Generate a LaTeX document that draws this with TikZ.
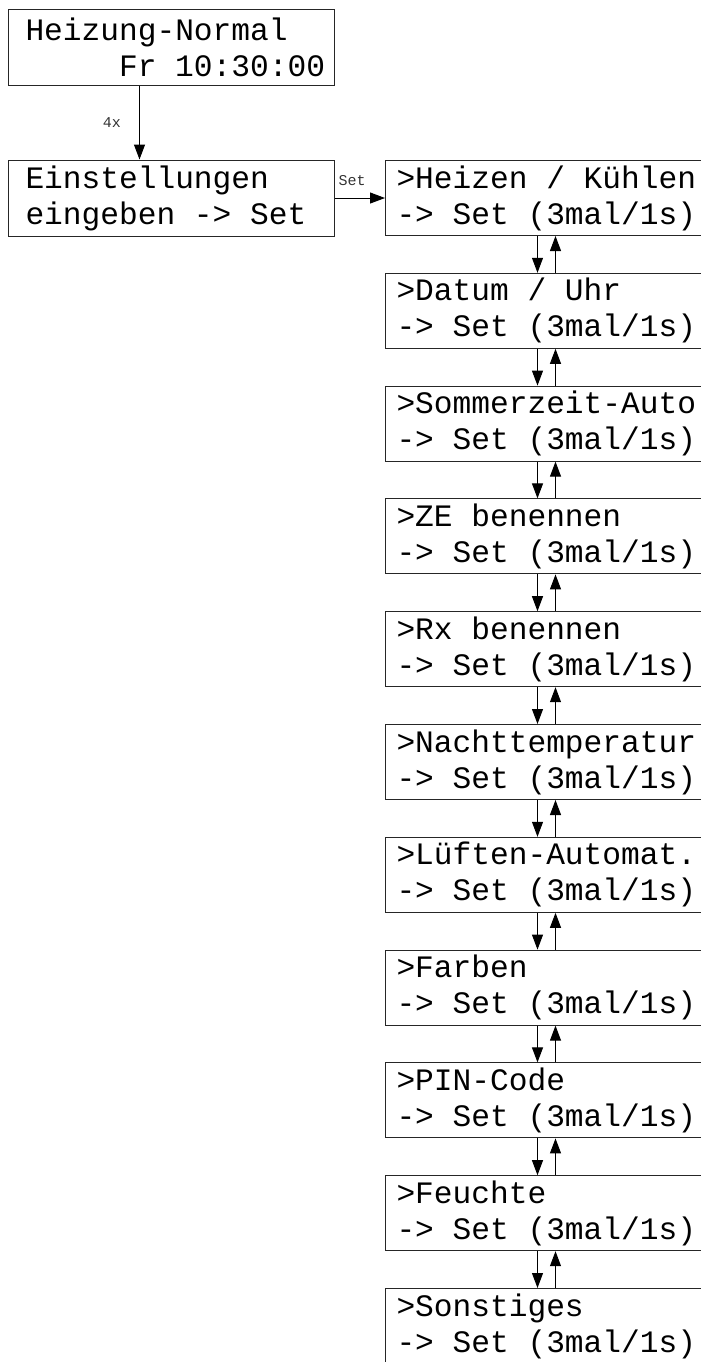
\documentclass[tikz,border=0pt]{standalone}
\usepackage{fontspec}
\setmonofont{Liberation Mono}
\usetikzlibrary{arrows.meta, positioning}
\newcommand\lcdspace{\spaceskip=9.36pt\xspaceskip=9.36pt\relax}
\tikzset{
  lcd/.style ={rectangle, draw=black!85, line width=0.5pt, align=left, text width=146pt,
               inner xsep=8.5pt, inner ysep=0.5pt, minimum width=163pt, minimum height=38pt,
               font=\ttfamily\fontsize{15.6}{18}\selectfont, execute at begin node=\lcdspace},
  lcdr/.style={lcd, text width=150pt, inner xsep=5.5pt, minimum width=161pt, minimum height=37.5pt},
  marr/.style={-{Triangle[length=7.5pt, width=5.5pt]}, line width=0.5pt},
  mlbl/.style={font=\ttfamily\fontsize{7.5}{8}\selectfont, text=black!80, inner sep=1pt},
}
\begin{document}
\begin{tikzpicture}[node distance=18.4pt]
  \useasboundingbox (0,0) rectangle (350.5pt,-681pt);
  \node[lcd, anchor=north west] (heiz) at (4pt,-4.25pt) {Heizung-Normal\\\phantom{xxxxx}Fr~10:30:00};
  \node[lcd, below=37pt of heiz] (ein) {Einstellungen\\eingeben -> Set};
  \draw[marr] ([xshift=-16pt]heiz.south) -- node[mlbl, left=8pt]{4x} ([xshift=-16pt]ein.north);
  % Menuepunkte
  \node[lcdr, right=25pt of ein] (hk) {>Heizen / Kühlen\\-> Set (3mal/1s)};
  \node[lcdr, below=of hk] (datum) {>Datum / Uhr\\-> Set (3mal/1s)};
  \node[lcdr, below=of datum] (sommer) {>Sommerzeit-Auto\\-> Set (3mal/1s)};
  \node[lcdr, below=of sommer] (ze) {>ZE benennen\\-> Set (3mal/1s)};
  \node[lcdr, below=of ze] (rx) {>Rx benennen\\-> Set (3mal/1s)};
  \node[lcdr, below=of rx] (nacht) {>Nachttemperatur\\-> Set (3mal/1s)};
  \node[lcdr, below=of nacht] (lueft) {>Lüften-Automat.\\-> Set (3mal/1s)};
  \node[lcdr, below=of lueft] (farben) {>Farben\\-> Set (3mal/1s)};
  \node[lcdr, below=of farben] (pin) {>PIN-Code\\-> Set (3mal/1s)};
  \node[lcdr, below=of pin] (feucht) {>Feuchte\\-> Set (3mal/1s)};
  \node[lcdr, below=of feucht] (sonst) {>Sonstiges\\-> Set (3mal/1s)};
  \draw[marr] (ein) -- node[mlbl, above=5pt, xshift=-4pt]{Set} (hk);
  % runter / hoch
  \draw[marr] ([xshift=-4.5pt]hk.south) -- ([xshift=-4.5pt]datum.north);
  \draw[marr] ([xshift=4.5pt]datum.north) -- ([xshift=4.5pt]hk.south);
  \draw[marr] ([xshift=-4.5pt]datum.south) -- ([xshift=-4.5pt]sommer.north);
  \draw[marr] ([xshift=4.5pt]sommer.north) -- ([xshift=4.5pt]datum.south);
  \draw[marr] ([xshift=-4.5pt]sommer.south) -- ([xshift=-4.5pt]ze.north);
  \draw[marr] ([xshift=4.5pt]ze.north) -- ([xshift=4.5pt]sommer.south);
  \draw[marr] ([xshift=-4.5pt]ze.south) -- ([xshift=-4.5pt]rx.north);
  \draw[marr] ([xshift=4.5pt]rx.north) -- ([xshift=4.5pt]ze.south);
  \draw[marr] ([xshift=-4.5pt]rx.south) -- ([xshift=-4.5pt]nacht.north);
  \draw[marr] ([xshift=4.5pt]nacht.north) -- ([xshift=4.5pt]rx.south);
  \draw[marr] ([xshift=-4.5pt]nacht.south) -- ([xshift=-4.5pt]lueft.north);
  \draw[marr] ([xshift=4.5pt]lueft.north) -- ([xshift=4.5pt]nacht.south);
  \draw[marr] ([xshift=-4.5pt]lueft.south) -- ([xshift=-4.5pt]farben.north);
  \draw[marr] ([xshift=4.5pt]farben.north) -- ([xshift=4.5pt]lueft.south);
  \draw[marr] ([xshift=-4.5pt]farben.south) -- ([xshift=-4.5pt]pin.north);
  \draw[marr] ([xshift=4.5pt]pin.north) -- ([xshift=4.5pt]farben.south);
  \draw[marr] ([xshift=-4.5pt]pin.south) -- ([xshift=-4.5pt]feucht.north);
  \draw[marr] ([xshift=4.5pt]feucht.north) -- ([xshift=4.5pt]pin.south);
  \draw[marr] ([xshift=-4.5pt]feucht.south) -- ([xshift=-4.5pt]sonst.north);
  \draw[marr] ([xshift=4.5pt]sonst.north) -- ([xshift=4.5pt]feucht.south);
\end{tikzpicture}
\end{document}
